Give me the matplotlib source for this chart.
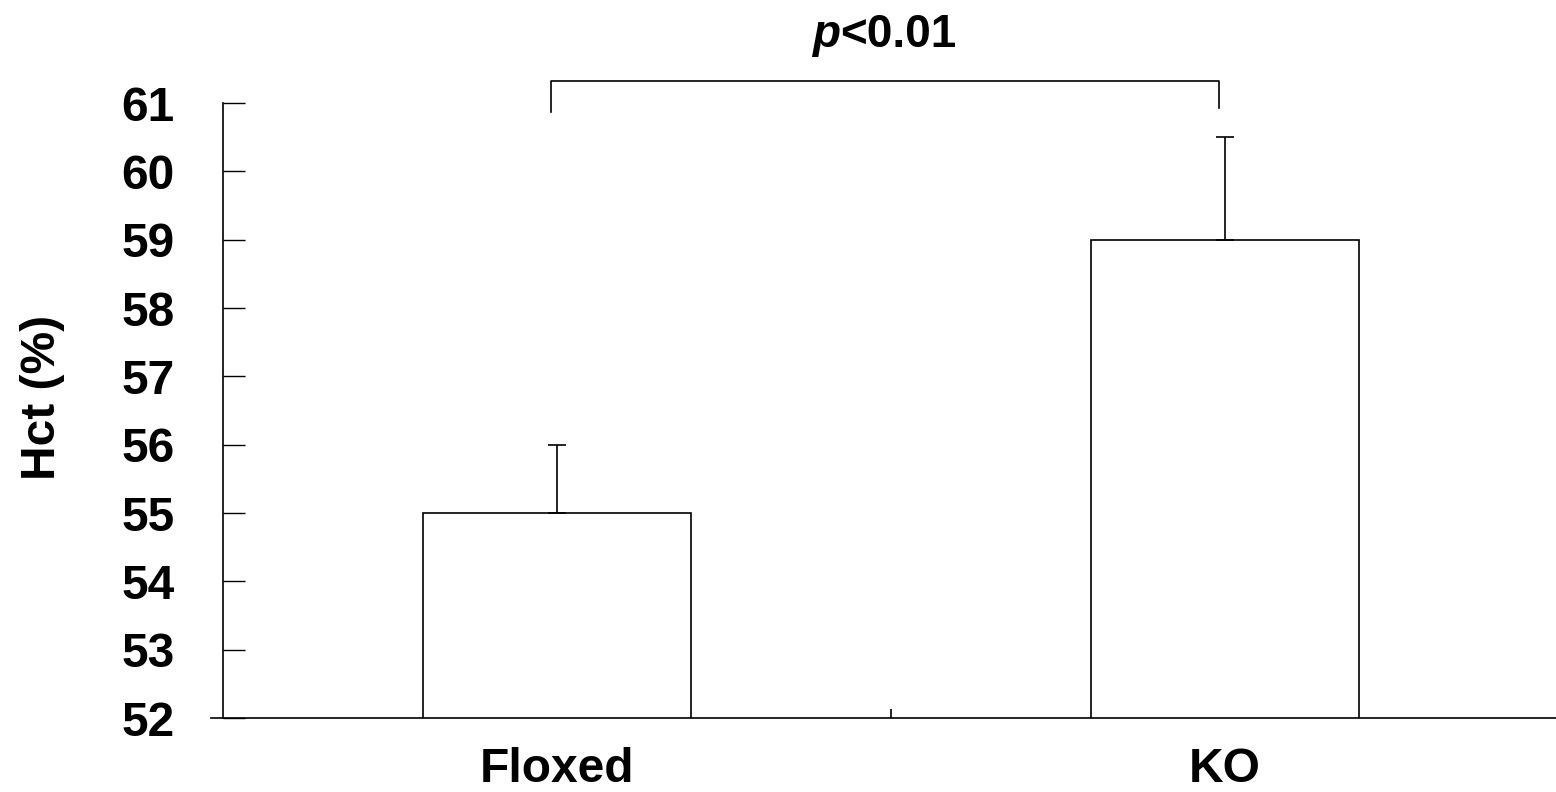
import matplotlib.pyplot as plt
from matplotlib.ticker import FixedLocator

plt.rcParams['font.family'] = ['Liberation Sans', 'DejaVu Sans']
plt.rcParams['font.weight'] = 'bold'

groups = ['Floxed', 'KO']
hct_mean = [55.0, 59.0]
hct_sem = [1.0, 1.5]
y_ticks = [52, 53, 54, 55, 56, 57, 58, 59, 60, 61]
p_label = '<0.01'

fs = 34.5

fig = plt.figure(figsize=(15.56, 7.92), dpi=100)
ax = fig.add_axes([223 / 1556, 74 / 792, 1336 / 1556, 615 / 792])

x = range(len(groups))
ax.bar(x, hct_mean, width=0.4, bottom=0, color='white', edgecolor='black',
       linewidth=1.2, zorder=2)
# upper error bars only
ax.errorbar(x, hct_mean, yerr=[[0, 0], hct_sem], fmt='none', ecolor='black',
            elinewidth=1.2, capsize=6.5, capthick=1.2, zorder=3)

ax.set_xlim(-0.5, 1.5)
ax.set_ylim(52, 61)
ax.set_yticks(y_ticks)
ax.set_yticklabels([str(t) for t in y_ticks], fontsize=fs, fontweight='bold')
ax.set_xticks(list(x))
ax.set_xticklabels(groups, fontsize=fs, fontweight='bold')
ax.xaxis.set_minor_locator(FixedLocator([0.5]))

ax.tick_params(axis='y', direction='in', length=16, width=1.0, pad=35)
ax.tick_params(axis='x', which='major', length=0, pad=21)
ax.tick_params(axis='x', which='minor', direction='in', length=6.5, width=1.2)

for side in ['top', 'right']:
    ax.spines[side].set_visible(False)
ax.spines['left'].set_linewidth(1.2)
ax.spines['bottom'].set_linewidth(1.2)
ax.spines['bottom'].set_bounds(-0.518, 1.5)

ax.set_ylabel('Hct (%)', fontsize=fs, fontweight='bold')
ax.yaxis.set_label_coords(-0.118, 0.522)

# significance bracket
ax.plot([-0.009, -0.009, 0.991, 0.991], [60.87, 61.32, 61.32, 60.93],
        color='black', linewidth=1.2, clip_on=False)
ax.text(0.424, 61.82, 'p', fontsize=33, fontweight='bold', style='italic',
        ha='right', va='baseline', clip_on=False)
ax.text(0.424, 61.82, p_label, fontsize=33, fontweight='bold',
        ha='left', va='baseline', clip_on=False)

fig.savefig('out.png', dpi=100)
